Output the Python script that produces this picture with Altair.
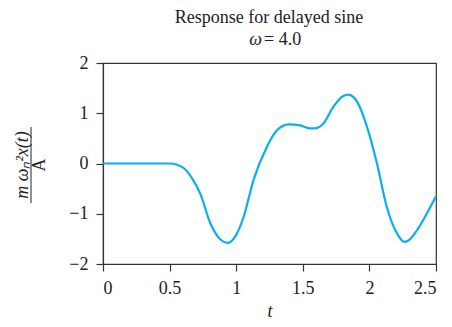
import altair as alt
import pandas as pd

t_vals = [0.0, 0.25, 0.5, 0.55, 0.605, 0.67, 0.73, 0.806, 0.87, 0.938, 1.0, 1.056,
          1.13, 1.23, 1.306, 1.394, 1.48, 1.55, 1.594, 1.656, 1.73, 1.80, 1.844,
          1.907, 1.982, 2.057, 2.13, 2.207, 2.264, 2.30, 2.357, 2.43, 2.5]
y_vals = [0.0, 0.0, 0.0, -0.02, -0.09, -0.3, -0.6, -1.19, -1.48, -1.58, -1.42, -1.06,
          -0.33, 0.33, 0.66, 0.78, 0.76, 0.70, 0.70, 0.80, 1.13, 1.34, 1.37,
          1.23, 0.73, 0.0, -0.86, -1.39, -1.56, -1.52, -1.33, -1.0, -0.65]
x_ticks = [0, 0.5, 1, 1.5, 2, 2.5]
y_ticks = [-2, -1, 0, 1, 2]
title_line1 = "Response for delayed sine"
title_sym = "ω"
title_val = "= 4.0"
ylabel_num = "m ωₙ²x(t)"
ylabel_den = "A"
xlabel = "t"

FONT = "Liberation Serif"
LINE = "#0aaeee"
INK = "#222222"

df = pd.DataFrame({"t": t_vals, "y": y_vals})
one = pd.DataFrame({"k": [0]})

line = alt.Chart(df).mark_line(color=LINE, strokeWidth=2.2, interpolate="monotone").encode(
    x=alt.X("t:Q", scale=alt.Scale(domain=[0, 2.5], nice=False),
            axis=alt.Axis(values=x_ticks, format="~g", title=xlabel, titleFontStyle="italic",
                          titlePadding=5)),
    y=alt.Y("y:Q", scale=alt.Scale(domain=[-2, 2], nice=False),
            axis=alt.Axis(values=y_ticks, format="~g", title=None)),
)


def txt(text, x, y, align="center", angle=0, style="normal"):
    return alt.Chart(one).mark_text(font=FONT, fontSize=18, fontStyle=style, angle=angle,
                                    align=align, baseline="alphabetic", color=INK).encode(
        x=alt.value(x), y=alt.value(y), text=alt.value(text))


num = txt(ylabel_num, -75, 102, angle=270, style="italic")
den = txt(ylabel_den, -58, 102, angle=270)
bar = alt.Chart(one).mark_rule(color=INK, strokeWidth=1).encode(
    x=alt.value(-72), y=alt.value(64), y2=alt.value(140))
t1 = txt(title_line1, 166, -40.5)
t2a = txt(title_sym, 159, -18.5, align="right", style="italic")
t2b = txt(title_val, 161, -18.5, align="left")

chart = alt.layer(line, num, den, bar, t1, t2a, t2b).properties(
    width=333, height=201,
    autosize="none",
    padding={"left": 95, "top": 55, "right": 8, "bottom": 55},
).configure_view(stroke="#333333", strokeWidth=1.2).configure_axis(
    grid=False, domainColor="#333333", domainWidth=1.2, tickColor="#333333", tickSize=7,
    tickWidth=1.2, labelFont=FONT, labelFontSize=18, labelColor=INK, labelPadding=8,
    titleFont=FONT, titleFontSize=18, titleColor=INK, titleFontWeight="normal",
)

chart.save("out.html", embed_options={"renderer": "svg", "actions": False})
